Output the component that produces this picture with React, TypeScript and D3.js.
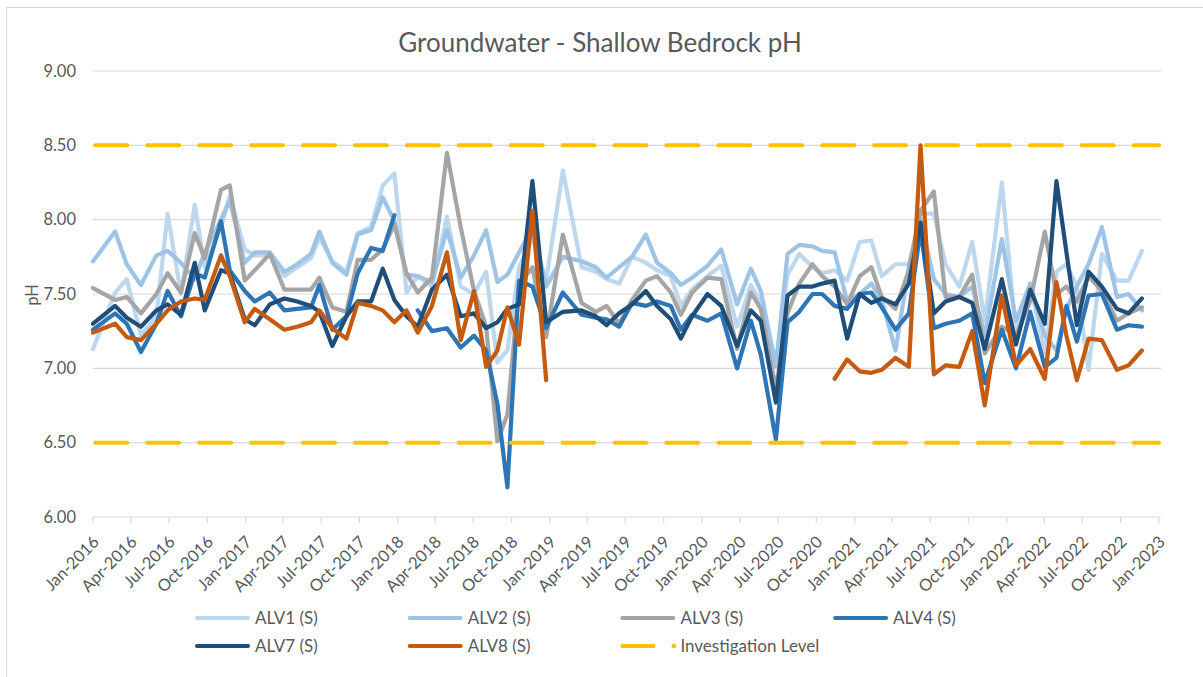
import React from "react";
import * as d3 from "d3";

const DATES = [
  "2016-01-01","2016-02-23","2016-03-22","2016-04-25","2016-06-01","2016-06-28","2016-07-30","2016-09-01","2016-09-25","2016-11-03",
  "2016-11-24","2016-12-30","2017-01-23","2017-02-28","2017-04-04","2017-05-05","2017-06-07","2017-06-27","2017-07-28","2017-08-31",
  "2017-09-27","2017-10-29","2017-11-26","2017-12-24","2018-01-22","2018-02-18","2018-03-24","2018-04-29","2018-06-01","2018-07-03",
  "2018-08-01","2018-08-28","2018-09-21","2018-10-19","2018-11-20","2018-12-23","2019-02-01","2019-03-18","2019-04-21","2019-05-17",
  "2019-06-16","2019-07-17","2019-08-19","2019-09-15","2019-10-18","2019-11-11","2019-12-08","2020-01-14","2020-02-16","2020-03-25",
  "2020-04-27","2020-05-21","2020-06-26","2020-07-24","2020-08-21","2020-09-22","2020-10-15","2020-11-14","2020-12-14","2021-01-13",
  "2021-02-10","2021-03-07","2021-04-09","2021-05-11","2021-06-08","2021-07-10","2021-08-07","2021-09-09","2021-10-10","2021-11-09",
  "2021-12-20","2022-01-23","2022-02-26","2022-04-02","2022-04-30","2022-05-24","2022-06-18","2022-07-16","2022-08-17","2022-09-22",
  "2022-10-20","2022-11-21",
];

const ALV1 = [
  7.13,7.51,7.60,7.22,7.35,8.04,7.50,8.10,7.68,7.95,
  8.16,7.80,7.76,7.76,7.62,7.68,7.74,7.88,7.72,7.65,
  7.91,7.95,8.23,8.31,7.51,7.62,7.55,8.02,7.55,7.50,
  7.65,7.04,7.12,7.68,7.88,7.59,8.33,7.68,7.65,7.60,
  7.57,7.75,7.71,7.66,7.62,7.42,7.53,7.62,7.69,7.28,
  7.56,7.44,7.04,7.63,7.77,7.68,7.64,7.66,7.59,7.85,
  7.86,7.62,7.70,7.70,8.04,8.04,7.70,7.55,7.85,7.32,
  8.25,7.23,7.57,7.10,7.65,7.70,7.55,6.99,7.77,7.59,
  7.59,7.79,
];
const ALV2 = [
  7.72,7.92,7.70,7.56,7.76,7.79,7.71,7.60,7.78,8.00,
  8.13,7.71,7.78,7.78,7.65,7.70,7.77,7.92,7.71,7.63,
  7.90,7.93,8.15,7.99,7.63,7.62,7.58,7.93,7.61,7.76,
  7.93,7.58,7.63,7.78,7.95,7.55,7.75,7.72,7.68,7.61,
  7.68,7.75,7.90,7.71,7.64,7.56,7.61,7.69,7.80,7.43,
  7.67,7.52,7.01,7.77,7.83,7.82,7.79,7.78,7.45,7.50,
  7.57,7.46,7.12,7.68,8.00,7.60,7.50,7.48,7.55,7.22,
  7.87,7.32,7.57,7.22,7.12,7.40,7.55,7.70,7.95,7.48,
  7.50,7.39,
];
const ALV3 = [
  7.54,7.46,7.48,7.37,7.50,7.64,7.51,7.91,7.74,8.20,
  8.23,7.59,7.66,7.77,7.53,7.53,7.53,7.61,7.41,7.38,
  7.73,7.73,7.80,7.97,7.64,7.51,7.61,8.45,7.95,7.52,
  7.28,6.51,6.69,7.56,7.68,7.21,7.90,7.44,7.38,7.42,
  7.30,7.46,7.59,7.62,7.51,7.36,7.51,7.61,7.60,7.13,
  7.51,7.40,6.86,7.37,7.57,7.70,7.62,7.55,7.43,7.62,
  7.68,7.48,7.40,7.66,8.06,8.19,7.48,7.48,7.63,7.10,
  7.28,7.22,7.45,7.92,7.50,7.55,7.45,7.62,7.52,7.32,
  7.37,7.41,
];
const ALV4 = [
  7.26,7.37,7.30,7.11,7.30,7.52,7.35,7.64,7.61,7.99,
  7.66,7.52,7.45,7.51,7.39,7.40,7.41,7.56,7.26,7.35,
  7.64,7.81,7.79,8.03,null,7.39,7.25,7.27,7.14,7.22,
  7.12,6.76,6.20,7.59,7.55,7.27,7.51,7.36,7.34,7.33,
  7.28,7.44,7.42,7.45,7.42,7.26,7.36,7.32,7.37,7.00,
  7.32,7.09,6.52,7.31,7.38,7.50,7.50,7.42,7.40,7.50,
  7.51,7.41,7.26,7.37,7.93,7.27,7.30,7.32,7.37,6.90,
  7.26,7.00,7.38,7.01,7.07,7.42,7.18,7.49,7.50,7.26,
  7.29,7.28,
];
const ALV7 = [
  7.30,7.42,7.34,7.28,7.39,7.43,7.36,7.71,7.39,7.66,
  7.64,7.33,7.29,7.43,7.47,7.45,7.42,7.38,7.15,7.35,
  7.45,7.45,7.67,7.46,7.35,7.28,7.53,7.63,7.35,7.37,
  7.27,7.31,7.40,7.43,8.26,7.31,7.38,7.39,7.35,7.29,
  7.37,7.43,7.52,7.42,7.33,7.20,7.35,7.50,7.42,7.15,
  7.39,7.32,6.77,7.49,7.55,7.55,7.57,7.59,7.20,7.50,
  7.44,7.47,7.43,7.57,7.98,7.37,7.45,7.48,7.44,7.13,
  7.60,7.16,7.53,7.30,8.26,7.78,7.29,7.65,7.55,7.40,
  7.37,7.47,
];
const ALV8 = [
  7.24,7.30,7.21,7.19,7.30,7.39,7.45,7.47,7.46,7.76,
  7.62,7.31,7.40,7.33,7.26,7.28,7.31,7.39,7.27,7.20,
  7.44,7.42,7.39,7.31,7.39,7.24,7.42,7.78,7.19,7.52,
  7.01,7.12,7.41,7.16,8.06,6.92,null,null,null,null,
  null,null,null,null,null,null,null,null,null,null,
  null,null,null,null,null,null,null,6.93,7.06,6.98,
  6.97,6.99,7.07,7.01,8.50,6.96,7.02,7.01,7.25,6.75,
  7.49,7.02,7.13,6.93,7.58,7.22,6.92,7.20,7.19,6.99,
  7.02,7.12,
];

const INVESTIGATION_LEVELS = [8.5, 6.5];
const Y_TICKS = [6.0, 6.5, 7.0, 7.5, 8.0, 8.5, 9.0];
const X_START = "2016-01-01";
const X_END = "2023-01-01";

const SERIES = [
  { name: "ALV1 (S)", values: ALV1, color: "#BDD7EE" },
  { name: "ALV2 (S)", values: ALV2, color: "#9DC3E6" },
  { name: "ALV3 (S)", values: ALV3, color: "#A5A5A5" },
  { name: "ALV4 (S)", values: ALV4, color: "#2E75B6" },
  { name: "ALV7 (S)", values: ALV7, color: "#1F4E79" },
  { name: "ALV8 (S)", values: ALV8, color: "#C55A11" },
];

const FONT = "Lato, 'Open Sans', sans-serif";
const TEXT = "#595959";
const GRID = "#D9D9D9";
const GOLD = "#FFC000";

export default function App() {
  const parse = d3.timeParse("%Y-%m-%d");
  const start = parse(X_START) as Date;
  const end = parse(X_END) as Date;
  const x = d3.scaleTime().domain([start, end]).range([93, 1159]);
  const y = d3.scaleLinear().domain([6, 9]).range([517, 71]);
  const dates = DATES.map((d) => parse(d) as Date);
  const xTicks = d3.timeMonth.every(3)!.range(start, d3.timeDay.offset(end, 1));
  const fmt = d3.timeFormat("%b-%Y");

  const line = d3
    .line<[Date, number | null]>()
    .defined((d) => d[1] != null)
    .x((d) => x(d[0]))
    .y((d) => y(d[1] as number));

  const legendItems = [
    ...SERIES.map((s) => ({ name: s.name, color: s.color, dashed: false })),
    { name: "Investigation Level", color: GOLD, dashed: true },
  ];

  return (
    <div style={{ position: "absolute", left: 0, top: 0 }}>
      <svg width={1203} height={677} style={{ display: "block", fontFamily: FONT }}>
        <rect x={0} y={0} width={1203} height={677} fill="#fff" />
        <rect x={6.5} y={7.5} width={1210} height={690} fill="none" stroke={GRID} strokeWidth={1} />
        <text x={600} y={52} textAnchor="middle" fontSize={26} fill={TEXT}>
          Groundwater - Shallow Bedrock pH
        </text>
        {Y_TICKS.map((t) => (
          <g key={t}>
            <line x1={93} x2={1161} y1={y(t)} y2={y(t)} stroke={GRID} strokeWidth={1.2} />
            <text x={76} y={y(t)} dy="0.35em" textAnchor="end" fontSize={16.5} fill={TEXT}>
              {t.toFixed(2)}
            </text>
          </g>
        ))}
        {xTicks.map((t, i) => (
          <g key={i}>
            <line x1={x(t)} x2={x(t)} y1={517} y2={523} stroke={GRID} strokeWidth={1.2} />
            <text
              transform={`translate(${x(t) + 3},${539}) rotate(-45)`}
              dy="0.35em"
              textAnchor="end"
              fontSize={16.5}
              fill={TEXT}
            >
              {fmt(t)}
            </text>
          </g>
        ))}
        <text transform="translate(32,295) rotate(-90)" dy="0.35em" textAnchor="middle" fontSize={16.5} fill={TEXT}>
          pH
        </text>
        {SERIES.map((s) => (
          <path
            key={s.name}
            d={line(dates.map((d, i) => [d, s.values[i]] as [Date, number | null])) || ""}
            fill="none"
            stroke={s.color}
            strokeWidth={4.2}
            strokeLinejoin="round"
            strokeLinecap="round"
          />
        ))}
        {INVESTIGATION_LEVELS.map((lv) => (
          <line
            key={lv}
            x1={x(start)}
            x2={x(end)}
            y1={y(lv)}
            y2={y(lv)}
            stroke={GOLD}
            strokeWidth={4}
            strokeLinecap="round"
            strokeDasharray="32 19.92"
            strokeDashoffset={-2.3}
          />
        ))}
        {legendItems.map((it, i) => {
          const col = i % 4;
          const row = Math.floor(i / 4);
          const lx = 197 + col * 212.7;
          const ly = 618 + row * 28;
          return (
            <g key={it.name}>
              {it.dashed ? (
                <line x1={lx} x2={lx + 52} y1={ly} y2={ly} stroke={it.color} strokeWidth={4}
                  strokeLinecap="round" strokeDasharray="31 20" />
              ) : (
                <line x1={lx} x2={lx + 51} y1={ly} y2={ly} stroke={it.color} strokeWidth={4} strokeLinecap="round" />
              )}
              <text x={lx + 58} y={ly} dy="0.35em" fontSize={17} fill={TEXT}>
                {it.name}
              </text>
            </g>
          );
        })}
      </svg>
    </div>
  );
}
